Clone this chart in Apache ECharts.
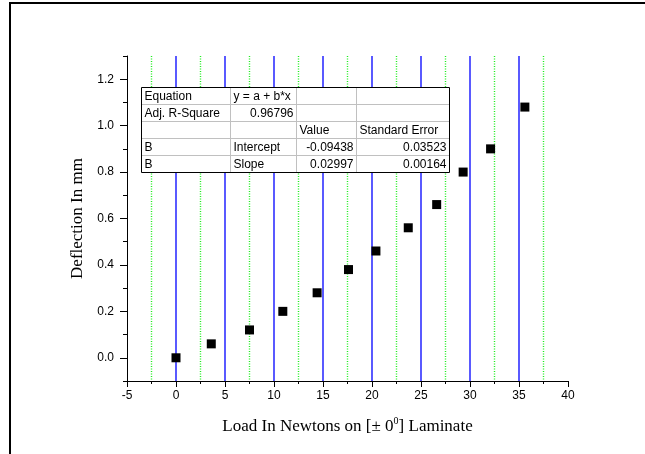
<!DOCTYPE html>
<html>
<head>
<meta charset="utf-8">
<script src="https://cdn.jsdelivr.net/npm/echarts@6/dist/echarts.min.js"></script>
<style>
  html, body { margin: 0; padding: 0; background: #fff; }
  #main { width: 645px; height: 454px; }
</style>
</head>
<body>
<div id="main"></div>
<script type="text/javascript">
	// load (N) vs deflection (mm)
	var loadN = [0, 3.6, 7.5, 10.9, 14.4, 17.6, 20.4, 23.7, 26.6, 29.3, 32.1, 35.6];
	var deflection = [0, 0.06, 0.12, 0.20, 0.28, 0.38, 0.46, 0.56, 0.66, 0.80, 0.90, 1.08];

	var yMajorTicks = [0, 0.2, 0.4, 0.6, 0.8, 1.0, 1.2];
	var yMinorTicks = [-0.1, 0.1, 0.3, 0.5, 0.7, 0.9, 1.1, 1.3];
	// vertical grid lines
	var xGridMajor = [0, 5, 10, 15, 20, 25, 30, 35];
	var xGridMinor = [-2.5, 2.5, 7.5, 12.5, 17.5, 22.5, 27.5, 32.5, 37.5];

	// fit result table
	var tableRows = [
		['Equation', 'y = a + b*x', '', ''],
		['Adj. R-Square', '0.96796', '', ''],
		['', '', 'Value', 'Standard Error'],
		['B', 'Intercept', '-0.09438', '0.03523'],
		['B', 'Slope', '0.02997', '0.00164']
	];

	var sans = '"Liberation Sans", Arial, sans-serif';
	var serif = '"Liberation Serif", "Times New Roman", serif';

	function buildTable() {
		var x0 = 141.5, y0 = 87.5, rowH = 17;
		var colW = [89, 66, 60, 93];
		var totalW = 0;
		for (var c = 0; c < colW.length; c++) totalW += colW[c];
		var totalH = rowH * tableRows.length;
		var els = [];
		els.push({ type: 'rect', shape: { x: x0, y: y0, width: totalW, height: totalH },
			style: { fill: '#fff', stroke: null }, z: 10 });
		// inner lines
		for (var r = 1; r < tableRows.length; r++) {
			els.push({ type: 'line', shape: { x1: x0, y1: y0 + r * rowH, x2: x0 + totalW, y2: y0 + r * rowH },
				style: { stroke: '#c0c0c0', lineWidth: 1 }, z: 11 });
		}
		var cx = x0;
		for (var c = 0; c < colW.length - 1; c++) {
			cx += colW[c];
			els.push({ type: 'line', shape: { x1: cx, y1: y0, x2: cx, y2: y0 + totalH },
				style: { stroke: '#c0c0c0', lineWidth: 1 }, z: 11 });
		}
		els.push({ type: 'rect', shape: { x: x0, y: y0, width: totalW, height: totalH },
			style: { fill: null, stroke: '#000', lineWidth: 1 }, z: 12 });
		// texts
		for (var r = 0; r < tableRows.length; r++) {
			var left = x0;
			for (var c = 0; c < colW.length; c++) {
				var t = tableRows[r][c];
				var isNum = /^-?[0-9.]+$/.test(t);
				if (t !== '') {
					els.push({
						type: 'text', z: 13,
						x: isNum ? left + colW[c] - 3 : left + 3,
						y: y0 + r * rowH + rowH / 2 + 0.5,
						style: { text: t, fill: '#000', font: '12px ' + sans,
							align: isNum ? 'right' : 'left', verticalAlign: 'middle' }
					});
				}
				left += colW[c];
			}
		}
		return els;
	}

	// full-height vertical line at an x value
	function vLine(color, width, dash) {
		return function (params, api) {
			var cs = params.coordSys;
			var px = api.coord([api.value(0), 0])[0];
			return {
				type: 'line',
				shape: { x1: px, y1: cs.y, x2: px, y2: cs.y + cs.height },
				style: { stroke: color, lineWidth: width, lineDash: dash }
			};
		};
	}

	var myChart = echarts.init(document.getElementById('main'));
	myChart.setOption({
		animation: false,
		backgroundColor: '#fff',
		grid: { left: 127, right: 77, top: 56, bottom: 73, containLabel: false },
		xAxis: {
			type: 'value',
			min: -5, max: 40, interval: 5,
			name: '{a|Load In Newtons on [± 0}{s|0}{a|] Laminate}',
			nameLocation: 'middle',
			nameGap: 35,
			nameTextStyle: {
				rich: {
					a: { fontFamily: serif, fontSize: 17, color: '#000', lineHeight: 19, verticalAlign: 'bottom' },
					s: { fontFamily: serif, fontSize: 10, color: '#000', lineHeight: 19, verticalAlign: 'top' }
				}
			},
			axisLine: { onZero: false, lineStyle: { color: '#000', width: 1 } },
			axisTick: { length: 6, lineStyle: { color: '#000' } },
			minorTick: { show: true, splitNumber: 2, length: 3, lineStyle: { color: '#000' } },
			axisLabel: { color: '#000', fontFamily: sans, fontSize: 12, margin: 9 },
			splitLine: { show: false },
			minorSplitLine: { show: false }
		},
		yAxis: [{
			type: 'value',
			position: 'left',
			min: -0.1, max: 1.3, interval: 0.1,
			name: 'Deflection In mm',
			nameLocation: 'middle',
			nameGap: 41,
			nameTextStyle: { fontFamily: serif, fontSize: 17, color: '#000' },
			axisLine: { onZero: false, lineStyle: { color: '#000', width: 1 } },
			axisTick: { length: 7, customValues: yMajorTicks, lineStyle: { color: '#000' } },
			axisLabel: { customValues: yMajorTicks, color: '#000', fontFamily: sans, fontSize: 12, margin: 13,
				formatter: function (v) { return v.toFixed(1); } },
			splitLine: { show: false }
		}, {
			type: 'value',
			position: 'left',
			offset: 0,
			min: -0.1, max: 1.3, interval: 0.1,
			axisLine: { show: false, onZero: false },
			axisTick: { length: 4, customValues: yMinorTicks, lineStyle: { color: '#000' } },
			axisLabel: { show: false },
			splitLine: { show: false }
		}],
		series: [{
			type: 'custom',
			silent: true,
			z: 1,
			renderItem: vLine('#0000ff', 1.3, null),
			data: xGridMajor.map(function (v) { return [v]; })
		}, {
			type: 'custom',
			silent: true,
			z: 1,
			renderItem: vLine('#22ee22', 1.4, [1, 1.5]),
			data: xGridMinor.map(function (v) { return [v]; })
		}, {
			type: 'scatter',
			symbol: 'rect',
			symbolSize: 9,
			itemStyle: { color: '#000', opacity: 1 },
			data: loadN.map(function (x, i) { return [x, deflection[i]]; }),
			z: 5
		}],
		graphic: [
			{ type: 'line', shape: { x1: 9, y1: 3, x2: 645, y2: 3 }, style: { stroke: '#000', lineWidth: 2 } },
			{ type: 'line', shape: { x1: 10, y1: 2, x2: 10, y2: 454 }, style: { stroke: '#000', lineWidth: 2 } }
		].concat(buildTable())
	});
</script>
</body>
</html>
